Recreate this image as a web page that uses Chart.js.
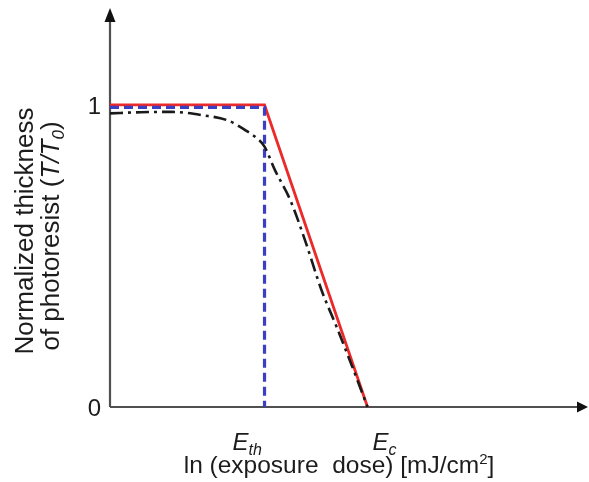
<!DOCTYPE html>
<html>
<head>
<meta charset="utf-8">
<script src="https://cdn.jsdelivr.net/npm/chart.js@4.4.1/dist/chart.umd.min.js"></script>
<style>
  body { margin: 0; background: #fff; }
</style>
</head>
<body>
<canvas id="chart-contrast" width="589" height="482"></canvas>
<script>
// positions on the ln(dose) axis, arbitrary units
const E_TH = 3.0;
const E_C = 5.0;

// ideal response (solid red)
const idealX = [0, E_TH, E_C];
const idealY = [1, 1, 0];

// infinite contrast (blue dashed)
const sharpX = [0, E_TH, E_TH];
const sharpY = [0.992, 0.992, 0];

// real resist (black dash-dot)
const realX = [0, 0.6, 1.2, 1.8, 2.3, 2.65, 2.85, 3.0, 3.2, 3.5, 3.8, 4.1, 4.4, 4.7, 5.0];
const realY = [0.972, 0.976, 0.977, 0.966, 0.948, 0.914, 0.89, 0.862, 0.785, 0.685, 0.545, 0.39, 0.265, 0.135, 0];

const yTicks = [0, 1];
const xTickValues = [E_TH, E_C];
const xTickSubs = ["th", "c"];

const FONT = "'Liberation Sans', Arial, sans-serif";

function toPoints(xs, ys) {
  return xs.map(function (v, i) {
    return { x: v, y: ys[i] };
  });
}

// draws a run of text pieces [{t, font, dy}] starting at x
function drawRuns(ctx, runs, x, y) {
  runs.forEach(function (r) {
    ctx.font = r.font;
    ctx.fillText(r.t, x, y + (r.dy || 0));
    x += ctx.measureText(r.t).width;
  });
}
function runsWidth(ctx, runs) {
  let w = 0;
  runs.forEach(function (r) {
    ctx.font = r.font;
    w += ctx.measureText(r.t).width;
  });
  return w;
}

const arrowAxes = {
  id: "arrowAxes",
  beforeDatasetsDraw(chart) {
    const { ctx, chartArea: a, scales: { x, y } } = chart;
    const x0 = x.getPixelForValue(0);
    const y0 = y.getPixelForValue(0);
    ctx.save();
    ctx.strokeStyle = "#505050";
    ctx.lineWidth = 2.2;
    ctx.beginPath();
    ctx.moveTo(x0, y0);
    ctx.lineTo(x0, a.top + 10);
    ctx.moveTo(x0, y0);
    ctx.lineTo(a.right - 8, y0);
    ctx.stroke();
    ctx.fillStyle = "#111";
    ctx.beginPath();
    ctx.moveTo(x0, a.top);
    ctx.lineTo(x0 - 5.5, a.top + 14);
    ctx.lineTo(x0 + 5.5, a.top + 14);
    ctx.closePath();
    ctx.fill();
    ctx.beginPath();
    ctx.moveTo(a.right, y0);
    ctx.lineTo(a.right - 11, y0 - 5.5);
    ctx.lineTo(a.right - 11, y0 + 5.5);
    ctx.closePath();
    ctx.fill();
    ctx.restore();
  },
  afterDraw(chart) {
    const { ctx, scales: { x, y } } = chart;
    const x0 = x.getPixelForValue(0);
    const y0 = y.getPixelForValue(0);
    ctx.save();
    ctx.fillStyle = "#1c1c1c";
    ctx.textBaseline = "alphabetic";

    // y tick labels
    ctx.font = "24px " + FONT;
    ctx.textAlign = "right";
    yTicks.forEach(function (v) {
      ctx.fillText(String(v), x0 - 9, y.getPixelForValue(v) + 9);
    });

    // E_th, E_c labels
    ctx.textAlign = "left";
    const shift = [-32, 5];
    xTickValues.forEach(function (v, i) {
      drawRuns(ctx, [
        { t: "E", font: "italic 24px " + FONT },
        { t: xTickSubs[i], font: "italic 16px " + FONT, dy: 5 }
      ], x.getPixelForValue(v) + shift[i], y0 + 43);
    });

    // x title
    const xt = [
      { t: "ln (exposure  dose) [mJ/cm", font: "24.5px " + FONT },
      { t: "2", font: "15px " + FONT, dy: -9 },
      { t: "]", font: "24.5px " + FONT }
    ];
    drawRuns(ctx, xt, 339 - runsWidth(ctx, xt) / 2, 473);

    // y title, rotated
    ctx.rotate(-Math.PI / 2);
    const l1 = [{ t: "Normalized thickness", font: "26px " + FONT }];
    const l2 = [
      { t: "of photoresist (", font: "26px " + FONT },
      { t: "T/T", font: "italic 26px " + FONT },
      { t: "0", font: "italic 17px " + FONT, dy: 5 },
      { t: ")", font: "26px " + FONT }
    ];
    drawRuns(ctx, l1, -231 - runsWidth(ctx, l1) / 2, 33);
    drawRuns(ctx, l2, -236 - runsWidth(ctx, l2) / 2, 59);
    ctx.restore();
  }
};

new Chart(document.getElementById("chart-contrast").getContext("2d"), {
  type: "line",
  data: {
    datasets: [
      {
        label: "real",
        data: toPoints(realX, realY),
        borderColor: "#1a1a1a",
        borderWidth: 2.6,
        borderDash: [13, 5, 3, 5],
        pointRadius: 0,
        cubicInterpolationMode: "monotone",
        clip: false
      },
      {
        label: "threshold",
        data: toPoints(sharpX, sharpY),
        borderColor: "#3a3fc4",
        borderWidth: 3.2,
        borderDash: [9, 5],
        pointRadius: 0,
        tension: 0,
        clip: false
      },
      {
        label: "ideal",
        data: toPoints(idealX, idealY),
        borderColor: "#ec2a2a",
        borderWidth: 2.8,
        pointRadius: 0,
        tension: 0,
        clip: false
      }
    ]
  },
  options: {
    responsive: false,
    animation: false,
    layout: { padding: { left: 110, top: 8, right: 1, bottom: 75 } },
    plugins: { legend: { display: false }, tooltip: { enabled: false } },
    scales: {
      x: { type: "linear", min: 0, max: 9.28, display: false },
      y: { type: "linear", min: 0, max: 1.321, display: false }
    }
  },
  plugins: [arrowAxes]
});
</script>
</body>
</html>
